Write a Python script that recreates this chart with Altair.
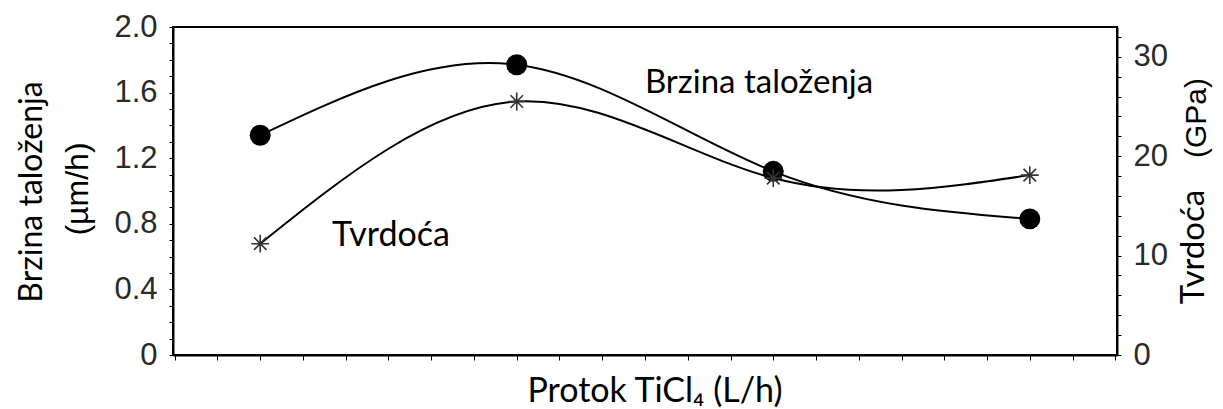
import altair as alt
import pandas as pd

# data
flow_index = [1, 2, 3, 4]                 # four TiCl4 flow settings (no numeric labels on the axis)
rate = [1.34, 1.77, 1.12, 0.83]           # Brzina taloženja (µm/h), filled circles
hardness = [11.2, 25.5, 17.8, 18.1]       # Tvrdoća (GPa), asterisks

left_ticks = [round(i * 0.1, 1) for i in range(21)]
right_ticks = list(range(0, 33, 2))
x_ticks = [i / 6 for i in range(4, 27)]

df = pd.DataFrame({"flow": flow_index, "rate": rate, "hardness": hardness})

AX_FONT = "Liberation Sans"
TX_FONT = "Lato"
W, H = 944, 328

x_enc = alt.X(
    "flow:Q",
    scale=alt.Scale(domain=[0.66, 4.34], nice=False, zero=False),
    axis=alt.Axis(values=x_ticks, labels=False, title=None, tickSize=5,
                  tickColor="black", domainColor="black", domainWidth=2, grid=False),
)

y_left = alt.Y(
    "rate:Q",
    scale=alt.Scale(domain=[0, 2.0], nice=False, zero=True),
    axis=alt.Axis(orient="left", values=left_ticks, title=None, grid=False,
                  labelExpr="datum.value == 0 ? '0' : (round(datum.value*10) % 4 == 0 ? format(datum.value, '.1f') : '')",
                  labelOverlap=False, labelFont=AX_FONT, labelFontSize=31, labelColor="#2a2a2a",
                  labelPadding=12, tickSize=4, tickColor="black", domainColor="black", domainWidth=2),
)

y_right = alt.Y(
    "hardness:Q",
    scale=alt.Scale(domain=[0, 33], nice=False, zero=True),
    axis=alt.Axis(orient="right", values=right_ticks, title=None, grid=False,
                  labelExpr="datum.value % 10 == 0 ? format(datum.value, 'd') : ''",
                  labelOverlap=False, labelFont=AX_FONT, labelFontSize=31, labelColor="#2a2a2a",
                  labelPadding=12, tickSize=4, tickColor="black", domainColor="black", domainWidth=2),
)

base = alt.Chart(df)

rate_line = base.mark_line(interpolate="natural", color="black", strokeWidth=2).encode(x=x_enc, y=y_left)
rate_pts = base.mark_point(shape="circle", filled=True, size=440, color="black", opacity=1).encode(x=x_enc, y=y_left)

hard_line = base.mark_line(interpolate="natural", color="black", strokeWidth=2).encode(x=x_enc, y=y_right)
hard_pts = base.mark_point(
    shape="M-1,0L1,0M0,-1L0,1M-0.7,-0.7L0.7,0.7M-0.7,0.7L0.7,-0.7",
    filled=False, size=320, color="#333333", strokeWidth=1.6, opacity=1,
).encode(x=x_enc, y=y_right)

left_layer = alt.layer(rate_line, rate_pts)
right_layer = alt.layer(hard_line, hard_pts)


def label(txt, x, y, font, size, angle=0, align="center"):
    return alt.Chart(pd.DataFrame({"t": [txt]})).mark_text(
        font=font, fontSize=size, angle=angle, align=align, baseline="middle", color="black"
    ).encode(text="t:N", x=alt.value(x), y=alt.value(y))


texts = [
    label("Brzina taloženja", 586, 56, TX_FONT, 33),
    label("Tvrdoća", 218, 209, TX_FONT, 34),
    label("Brzina taloženja", -141, 165, TX_FONT, 32, angle=270),
    label("(µm/h)", -95, 162, AX_FONT, 32, angle=270),
    label("Tvrdoća", 1021, 220, TX_FONT, 33, angle=270),
    label("(GPa)", 1024, 91, AX_FONT, 30, angle=270),
    label("Protok TiCl₄  (L/h)", 482, 365, TX_FONT, 34),
]

chart = (
    alt.layer(left_layer, right_layer, *texts)
    .resolve_scale(y="independent")
    .properties(
        width=W, height=H,
        autosize=alt.AutoSizeParams(type="none"),
        padding={"left": 165, "top": 19, "right": 98, "bottom": 54},
        background="white",
    )
    .configure_view(stroke="black", strokeWidth=2)
)

chart.save("out.html", embed_options={"renderer": "svg", "actions": False})
